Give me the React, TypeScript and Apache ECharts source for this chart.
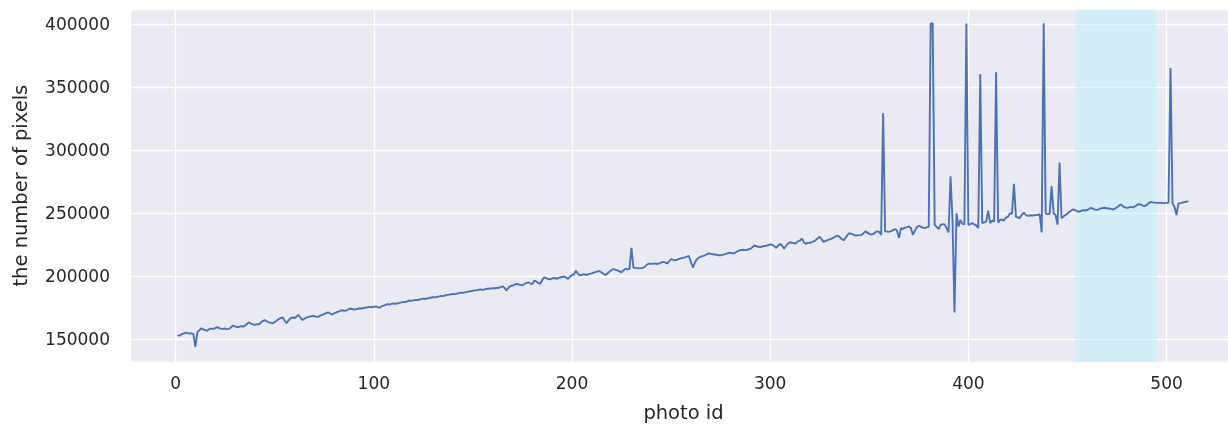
import React, { useEffect, useRef } from "react";
import * as echarts from "echarts";

// photo ids 1..511
const photoIds: number[] = Array.from({ length: 511 }, (_, i) => i + 1);

const pixelCounts: number[] = [
  153000, 152600, 153800, 154200, 155000, 154600, 154200, 154500, 153800, 143800,
  155500, 156800, 158500, 157600, 157000, 156500, 157800, 158200, 158000, 158600,
  159400, 158600, 158000, 158000, 158300, 157800, 158000, 159300, 160600, 160000,
  159500, 159500, 160200, 159800, 160500, 161800, 163300, 162200, 161500, 161300,
  161800, 161500, 163000, 164200, 165000, 164000, 163300, 162800, 162500, 163500,
  164500, 165800, 166500, 167200, 164500, 162500, 164800, 166400, 167200, 166500,
  167800, 169000, 167000, 165000, 166000, 167000, 167500, 167800, 168400, 168000,
  167600, 167500, 168500, 169200, 169800, 170500, 171100, 170200, 169500, 170300,
  171000, 171600, 172300, 172800, 172400, 172500, 173200, 174200, 173800, 173400,
  173500, 174000, 174400, 174200, 174600, 175000, 175200, 175500, 175000, 175600,
  175800, 175200, 175000, 176000, 176400, 177000, 177600, 177200, 177800, 178200,
  177800, 178300, 178600, 179000, 179400, 179200, 180000, 180500, 180200, 180600,
  181000, 180800, 181300, 181600, 182000, 181700, 182200, 182500, 182900, 183200,
  183000, 183400, 183800, 184200, 184000, 184600, 185000, 185200, 185500, 185800,
  185600, 186000, 186400, 186800, 186600, 187000, 187400, 187700, 188000, 188300,
  188600, 188800, 189100, 189400, 189000, 189300, 189800, 189800, 190000, 190300,
  190200, 190400, 190600, 191200, 191800, 190500, 188400, 190800, 192000, 192400,
  193200, 193800, 193300, 192900, 192500, 193600, 194400, 195000, 194200, 193500,
  196400, 195600, 194500, 193800, 196800, 198900, 198200, 197600, 197400, 198000,
  198400, 197800, 198200, 198800, 199200, 199400, 198800, 197700, 199400, 200800,
  201200, 204100, 201800, 200500, 200800, 201400, 200800, 201200, 201600, 202000,
  202600, 203200, 203600, 203800, 202800, 201500, 200800, 202200, 203600, 204800,
  205400, 204800, 204500, 203600, 202800, 204400, 205800, 205200, 205400, 222300,
  206700, 206400, 206200, 206000, 206200, 206600, 207800, 209200, 209900, 209600,
  209800, 209900, 209500, 210000, 210600, 211200, 210800, 209900, 211600, 213300,
  212800, 212500, 212900, 213600, 214000, 214400, 214800, 215400, 215900, 211000,
  206700, 210500, 213200, 214500, 215300, 215800, 216400, 217200, 218000, 217600,
  217200, 217000, 216800, 216400, 216400, 216800, 217200, 217800, 218400, 218200,
  218000, 218000, 219200, 220000, 220500, 220800, 220600, 220500, 221200, 221600,
  222800, 224200, 223600, 223200, 223000, 223400, 223800, 224000, 224400, 225000,
  224800, 223800, 222300, 224000, 225500, 224200, 221600, 223800, 225800, 226800,
  226400, 225800, 226200, 227400, 228000, 229700, 226800, 225500, 226300, 226400,
  226800, 227400, 228600, 230000, 231000, 229000, 227000, 227800, 228400, 229000,
  229600, 230400, 231400, 232000, 231000, 229600, 228300, 230200, 232400, 234000,
  233400, 232800, 232000, 232200, 232400, 232600, 233800, 235400, 234400, 233400,
  232800, 233400, 234600, 235400, 235000, 232600, 329100, 235400, 235200, 235000,
  235600, 236400, 237200, 236000, 230200, 238000, 237400, 238400, 238800, 239300,
  238000, 232600, 236000, 238600, 239800, 239200, 238400, 238000, 238600, 239000,
  400500, 400500, 240600, 239000, 237200, 240600, 241200, 241000, 238000, 234600,
  279100, 244500, 171000, 249700, 239300, 244500, 241400, 241000, 400500, 240600,
  241200, 241900, 241000, 240200, 238000, 360400, 241900, 242600, 243200, 251800,
  241900, 244000, 243000, 361700, 242400, 244500, 244800, 244000, 246400, 247100,
  249700, 249400, 273100, 247100, 246400, 246000, 248800, 250300, 248400, 247700,
  248000, 248200, 248000, 248400, 248600, 249000, 234600, 400700, 249700, 249000,
  249400, 271300, 249700, 248600, 240600, 290000, 245800, 247200, 248400, 249600,
  251000, 252000, 252800, 252000, 251400, 251000, 251600, 252200, 252000, 252400,
  253400, 254100, 253200, 252600, 252500, 253000, 253600, 254000, 254100, 253800,
  253600, 253200, 252800, 253400, 254600, 255800, 256700, 255200, 254400, 254100,
  254400, 254800, 254500, 255200, 256200, 257000, 256600, 255800, 255500, 256400,
  257800, 258800, 258400, 258200, 258000, 258000, 258200, 257800, 257800, 258000,
  258000, 365000, 257500, 255000, 248400, 257500, 257800, 258200, 258600, 259000,
  259400,
];

const highlightRange: [number, number] = [454, 495];

const xTitle = "photo id";
const yTitle = "the number of pixels";

export default function App() {
  const ref = useRef<HTMLDivElement>(null);

  useEffect(() => {
    if (!ref.current) return;
    const chart = echarts.init(ref.current, undefined, { renderer: "svg" });
    const textColor = "#262626";
    const font = "DejaVu Sans";
    chart.setOption({
      animation: false,
      grid: {
        left: 130,
        top: 9.3,
        right: 0,
        bottom: 59.3,
        show: true,
        backgroundColor: "#eaeaf2",
        borderWidth: 0,
      },
      xAxis: {
        type: "value",
        min: -23,
        max: 531,
        name: xTitle,
        nameLocation: "middle",
        nameGap: 40,
        nameTextStyle: {
          color: textColor,
          fontSize: 19.5,
          fontFamily: font,
          padding: [0, 0, 0, 9],
        },
        axisLine: { show: false },
        axisTick: { show: false },
        axisLabel: {
          color: textColor,
          fontSize: 17,
          fontFamily: font,
          margin: 12,
          showMinLabel: false,
          showMaxLabel: false,
        },
        splitLine: { show: true, lineStyle: { color: "#ffffff", width: 1.3 } },
      },
      yAxis: {
        type: "value",
        min: 131700,
        max: 411700,
        name: yTitle,
        nameLocation: "middle",
        nameGap: 100,
        nameRotate: 90,
        nameTextStyle: { color: textColor, fontSize: 19.5, fontFamily: font },
        axisLine: { show: false },
        axisTick: { show: false },
        axisLabel: {
          color: textColor,
          fontSize: 17,
          fontFamily: font,
          margin: 20,
          showMinLabel: false,
          showMaxLabel: false,
          formatter: (v: number) => String(Math.round(v)),
        },
        splitLine: { show: true, lineStyle: { color: "#ffffff", width: 1.3 } },
      },
      series: [
        {
          type: "line",
          data: photoIds.map((id, i) => [id, pixelCounts[i]]),
          showSymbol: false,
          symbol: "none",
          lineStyle: { color: "#4c72b0", width: 1.9 },
          itemStyle: { color: "#4c72b0" },
          markArea: {
            silent: true,
            itemStyle: { color: "rgba(185,240,248,0.45)" },
            data: [[{ xAxis: highlightRange[0] }, { xAxis: highlightRange[1] }]],
          },
        },
      ],
    });
    return () => chart.dispose();
  }, []);

  return (
    <div
      ref={ref}
      style={{ position: "fixed", left: 0, top: 0, width: 1228, height: 427 }}
    />
  );
}
